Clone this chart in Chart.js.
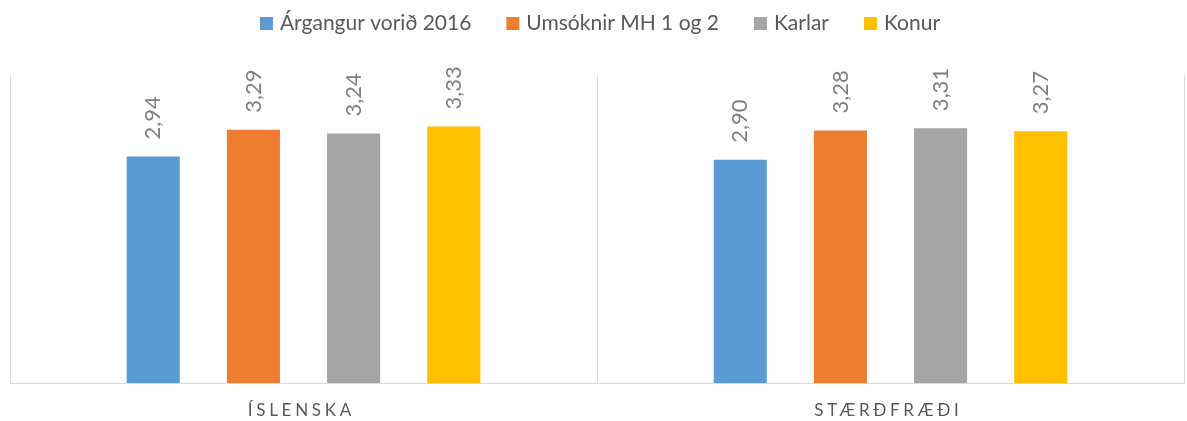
<!DOCTYPE html>
<html><head><meta charset="utf-8">
<script src="https://cdn.jsdelivr.net/npm/chart.js@4/dist/chart.umd.min.js"></script>
<style>html,body{margin:0;padding:0;background:#fff}#wrap{width:1187px;height:421px}</style>
</head><body><div id="wrap"><canvas id="c"></canvas></div>
<script>
const categories = ['ÍSLENSKA', 'STÆRÐFRÆÐI'];
const seriesNames = ['Árgangur vorið 2016', 'Umsóknir MH 1 og 2', 'Karlar', 'Konur'];
const argangur = [2.94, 2.90];
const umsoknir = [3.29, 3.28];
const karlar = [3.24, 3.31];
const konur = [3.33, 3.27];
const colors = ['#5B9BD5', '#ED7D31', '#A5A5A5', '#FFC000'];
const FONT = 'Lato, "Open Sans", sans-serif';

const labelPlugin = {
  id: 'barLabels',
  afterDatasetsDraw(chart) {
    const ctx = chart.ctx;
    ctx.save();
    ctx.font = '22px ' + FONT;
    ctx.fillStyle = '#7F7F7F';
    ctx.textAlign = 'left';
    ctx.textBaseline = 'middle';
    chart.data.datasets.forEach((ds, di) => {
      const meta = chart.getDatasetMeta(di);
      meta.data.forEach((bar, i) => {
        const txt = ds.data[i].toFixed(2).replace('.', ',');
        ctx.save();
        ctx.translate(bar.x, bar.y - 17);
        ctx.rotate(-Math.PI / 2);
        ctx.fillText(txt, 0, 0);
        ctx.restore();
      });
    });
    ctx.restore();
  },
  afterDraw(chart) {
    const ctx = chart.ctx;
    const xs = chart.scales.x;
    // category labels with letter spacing
    ctx.save();
    ctx.font = '17px ' + FONT;
    ctx.fillStyle = '#595959';
    ctx.textAlign = 'left';
    ctx.textBaseline = 'middle';
    const sp = 3.7;
    try { ctx.letterSpacing = sp + 'px'; } catch (e) {}
    categories.forEach((c, i) => {
      const w = ctx.measureText(c).width - sp;
      ctx.fillText(c, xs.getPixelForValue(i) - 4 - w / 2, 411);
    });
    ctx.restore();
    // legend
    ctx.save();
    ctx.font = '21px ' + FONT;
    ctx.textAlign = 'left';
    ctx.textBaseline = 'middle';
    const box = 13, gapText = 7, gapItem = 35;
    const widths = seriesNames.map(n => ctx.measureText(n).width);
    const total = widths.reduce((a, w) => a + box + gapText + w, 0) + gapItem * (seriesNames.length - 1);
    let x = 600 - total / 2;
    seriesNames.forEach((n, i) => {
      ctx.fillStyle = colors[i];
      ctx.fillRect(x, 17, box, box);
      ctx.fillStyle = '#595959';
      ctx.fillText(n, x + box + gapText, 23.5);
      x += box + gapText + widths[i] + gapItem;
    });
    ctx.restore();
  }
};

const series = [argangur, umsoknir, karlar, konur];
new Chart(document.getElementById('c'), {
  type: 'bar',
  data: {
    labels: categories,
    datasets: series.map((d, i) => ({
      label: seriesNames[i], data: d, backgroundColor: colors[i],
      categoryPercentage: 0.6826, barPercentage: 0.53
    }))
  },
  options: {
    responsive: true, maintainAspectRatio: false, animation: false,
    layout: { padding: { left: 10, right: 3, top: 75, bottom: 38 } },
    plugins: {
      legend: { display: false },
      tooltip: { enabled: false }
    },
    scales: {
      x: {
        ticks: { display: false },
        grid: { color: '#D9D9D9', offset: true, drawTicks: false },
        border: { color: '#D9D9D9' }
      },
      y: {
        display: false, min: 0, max: 4
      }
    }
  },
  plugins: [labelPlugin]
});
</script>
</body></html>
